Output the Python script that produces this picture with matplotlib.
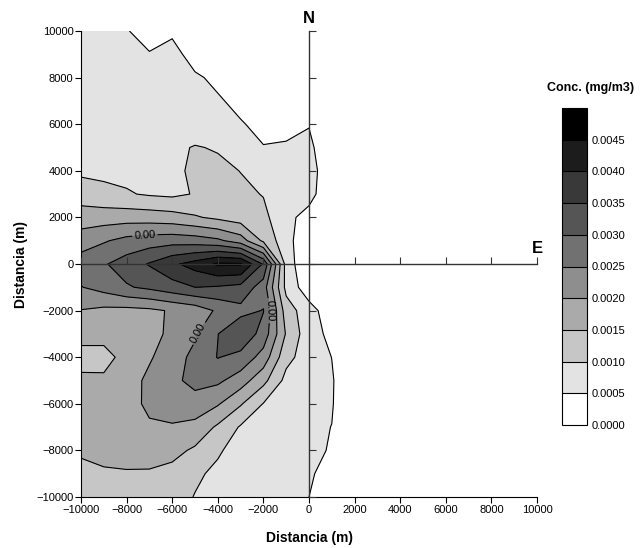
import matplotlib
matplotlib.use("Agg")
import matplotlib.pyplot as plt
import numpy as np

plt.rcParams['font.family'] = ['Liberation Sans', 'DejaVu Sans']

# receptor grid (m), 1000 m spacing
x_m = np.arange(-10000, 10001, 1000)
y_m = np.arange(-10000, 10001, 1000)

# concentration, in 1e-4 mg/m3, rows from y=+10000 down to y=-10000
# columns x = -10000 ... +10000
conc_rows = [
    [6.8, 6.2, 5.1, 4.3, 4.5, 3.0, 2.5, 2.0, 1.5, 1.0, 0.5, 0.0, 0, 0, 0, 0, 0, 0, 0, 0, 0],
    [7.2, 6.8, 6.4, 5.1, 6.0, 3.8, 3.5, 2.8, 2.2, 1.6, 1.0, 0.3, 0, 0, 0, 0, 0, 0, 0, 0, 0],
    [7.6, 7.3, 7.0, 6.6, 6.2, 5.4, 4.4, 3.5, 2.8, 2.2, 1.6, 0.5, 0, 0, 0, 0, 0, 0, 0, 0, 0],
    [8.0, 7.8, 7.6, 7.2, 6.8, 6.3, 5.3, 4.3, 3.5, 3.0, 2.5, 0.8, 0, 0, 0, 0, 0, 0, 0, 0, 0],
    [8.4, 8.2, 8.0, 7.8, 7.6, 7.2, 6.3, 5.2, 4.3, 4.2, 4.8, 1.0, 0, 0, 0, 0, 0, 0, 0, 0, 0],
    [8.8, 8.6, 8.5, 8.6, 9.0, 10.3, 9.6, 7.5, 5.1, 5.3, 6.0, 1.5, 0, 0, 0, 0, 0, 0, 0, 0, 0],
    [9.0, 8.8, 8.8, 9.0, 9.0, 10.8, 11.2, 9.9, 8.2, 6.8, 6.5, 2.5, 0, 0, 0, 0, 0, 0, 0, 0, 0],
    [12.7, 11.4, 10.4, 9.5, 9.0, 10.3, 11.5, 11.0, 9.8, 7.5, 7.0, 0.5, 0, 0, 0, 0, 0, 0, 0, 0, 0],
    [17.3, 17.6, 17.8, 17.6, 17.0, 15.5, 14.0, 12.5, 11.2, 6.5, 3.0, 0.5, 0, 0, 0, 0, 0, 0, 0, 0, 0],
    [22.7, 24.5, 26.5, 27.5, 28.0, 27.5, 26.0, 22.5, 14.0, 6.8, 1.0, 0.3, 0, 0, 0, 0, 0, 0, 0, 0, 0],
    [27.3, 29.5, 32.3, 35.4, 39.0, 42.0, 45.8, 45.6, 34.4, 8.0, 0.0, 0.0, 0, 0, 0, 0, 0, 0, 0, 0, 0],
    [24.8, 26.8, 29.5, 31.0, 33.0, 35.0, 34.5, 33.5, 27.5, 8.5, 2.0, 0.5, 0, 0, 0, 0, 0, 0, 0, 0, 0],
    [19.8, 18.8, 18.5, 19.0, 20.5, 22.0, 25.8, 28.5, 30.2, 12.5, 7.0, 2.0, 0, 0, 0, 0, 0, 0, 0, 0, 0],
    [16.5, 17.0, 17.5, 18.5, 21.0, 24.3, 29.9, 34.0, 28.0, 14.5, 7.0, 3.8, 0.5, 0, 0, 0, 0, 0, 0, 0, 0],
    [13.5, 13.0, 17.0, 19.5, 22.5, 26.5, 30.2, 28.5, 23.0, 11.5, 7.5, 4.95, 1.0, 0, 0, 0, 0, 0, 0, 0, 0],
    [15.8, 16.0, 18.0, 21.0, 23.8, 26.5, 26.0, 22.5, 16.5, 8.5, 6.2, 5.4, 1.0, 0, 0, 0, 0, 0, 0, 0, 0],
    [16.5, 17.0, 18.5, 20.8, 22.5, 23.0, 20.5, 15.5, 9.8, 7.5, 6.0, 5.3, 1.0, 0, 0, 0, 0, 0, 0, 0, 0],
    [16.5, 17.5, 18.5, 19.5, 19.5, 18.5, 14.2, 9.5, 7.5, 6.5, 5.8, 4.95, 1.0, 0, 0, 0, 0, 0, 0, 0, 0],
    [15.5, 16.2, 16.8, 17.0, 16.5, 14.2, 10.6, 8.0, 7.0, 6.3, 5.6, 4.8, 1.0, 0, 0, 0, 0, 0, 0, 0, 0],
    [14.0, 14.5, 14.6, 14.5, 13.5, 10.8, 9.0, 7.5, 6.8, 6.0, 5.4, 3.8, 0.5, 0, 0, 0, 0, 0, 0, 0, 0],
    [13.0, 13.2, 13.5, 13.0, 12.0, 9.8, 8.5, 7.2, 6.5, 5.8, 5.0, 2.0, 0.0, 0, 0, 0, 0, 0, 0, 0, 0],
]

band_edges = [0.0, 0.0005, 0.0010, 0.0015, 0.0020, 0.0025,
              0.0030, 0.0035, 0.0040, 0.0045, 0.0050]
band_grays = ['#ffffff', '#e3e3e3', '#c6c6c6', '#aaaaaa', '#8e8e8e',
              '#717171', '#555555', '#393939', '#1c1c1c', '#000000']
cbar_labels = ['0.0000', '0.0005', '0.0010', '0.0015', '0.0020',
               '0.0025', '0.0030', '0.0035', '0.0040', '0.0045']
axis_ticks = [-10000, -8000, -6000, -4000, -2000, 0, 2000, 4000, 6000, 8000, 10000]
labelled_level = 0.0025
# where the "0.00" labels sit on the 0.0025 line
label_spots = [(-7200, 1300), (-4800, -3000), (-1600, -2000)]

conc = np.array(conc_rows)[::-1] * 1e-4

fig = plt.figure(figsize=(6.42, 5.48), dpi=100)
ax_pos = [81 / 642, 51 / 548, 456 / 642, 466 / 548]
ax = fig.add_axes(ax_pos)

cs = ax.contourf(x_m, y_m, conc, levels=band_edges, colors=band_grays)
plain_levels = [v for v in band_edges[1:-1] if v != labelled_level]
ax.contour(x_m, y_m, conc, levels=plain_levels, colors='k', linewidths=0.8)
cl = ax.contour(x_m, y_m, conc, levels=[labelled_level], colors='k', linewidths=0.8)
ax.clabel(cl, manual=label_spots, fmt='%1.2f', fontsize=8, inline=True, inline_spacing=2)

ax.set_xlim(-10000, 10000)
ax.set_ylim(-10000, 10000)
ax.set_xticks(axis_ticks)
ax.set_yticks(axis_ticks)
ax.tick_params(direction='out', length=4, width=0.8, labelsize=8, pad=1.5)
for s in ['top', 'right']:
    ax.spines[s].set_visible(False)
for s in ['left', 'bottom']:
    ax.spines[s].set_linewidth(0.8)
ax.set_xlabel('Distancia (m)', fontsize=10, fontweight='bold', labelpad=12)
ax.set_ylabel('Distancia (m)', fontsize=10, fontweight='bold', labelpad=6)

# compass cross through the source
ax2 = fig.add_axes(ax_pos)
ax2.patch.set_visible(False)
ax2.set_xlim(-10000, 10000)
ax2.set_ylim(-10000, 10000)
for s in ['top', 'right']:
    ax2.spines[s].set_visible(False)
for s in ['left', 'bottom']:
    ax2.spines[s].set_position(('data', 0))
    ax2.spines[s].set_color('#333333')
    ax2.spines[s].set_linewidth(1.0)
ax2.set_xticks(axis_ticks)
ax2.set_yticks(axis_ticks)
ax2.tick_params(direction='in', length=5, width=0.8, color='#333333',
                labelleft=False, labelbottom=False)
ax2.annotate('N', xy=(0, 10000), xytext=(0, 6), textcoords='offset points',
             ha='center', va='baseline', fontsize=12, fontweight='bold')
ax2.annotate('E', xy=(10000, 0), xytext=(0, 8), textcoords='offset points',
             ha='center', va='baseline', fontsize=12, fontweight='bold')

cax = fig.add_axes([562 / 642, 123 / 548, 25 / 642, 317 / 548])
cb = fig.colorbar(cs, cax=cax, ticks=band_edges[:-1], drawedges=True)
cb.ax.set_yticklabels(cbar_labels)
cb.ax.tick_params(length=0, labelsize=8, pad=3)
cb.outline.set_linewidth(0.8)
cb.dividers.set_color('k')
cb.dividers.set_linewidth(0.8)
fig.text(591 / 642, 1 - 88 / 548, 'Conc. (mg/m3)', ha='center', va='center',
         fontsize=9, fontweight='bold')

fig.savefig('out.png', dpi=100)
